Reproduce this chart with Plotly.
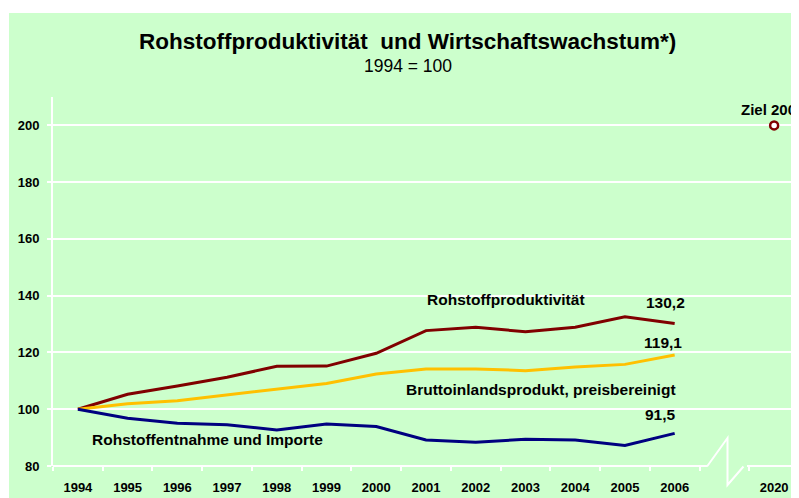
import plotly.graph_objects as go

years = ["1994", "1995", "1996", "1997", "1998", "1999", "2000",
         "2001", "2002", "2003", "2004", "2005", "2006"]
gap_cat = " "
target_year = "2020"
categories = years + [gap_cat, target_year]

rohstoffproduktivitaet = [100, 105.3, 108.2, 111.3, 115.1, 115.2, 119.7,
                          127.7, 128.9, 127.3, 128.9, 132.6, 130.2]
bip = [100, 101.9, 103.0, 105.0, 107.0, 109.1, 112.4,
       114.2, 114.2, 113.6, 114.9, 115.8, 119.1]
rohstoffentnahme = [100, 96.8, 95.1, 94.5, 92.7, 94.8, 93.9,
                    89.2, 88.4, 89.4, 89.2, 87.2, 91.5]
ziel_value = 200

y_ticks = [80, 100, 120, 140, 160, 180, 200]

RED = "#800000"
YEL = "#FFC000"
BLUE = "#000080"
GREEN = "#CCFFCC"
FONT = "Arial, Liberation Sans, sans-serif"

# figure geometry (page body adds an 8px offset)
W, H = 791, 490
L, R, T, B = 45, 0, 89, 32
PW, PH = W - L - R, H - T - B


def px(xr):  # reference pixel x -> paper
    return (xr - 8 - L) / PW


def py(yr):  # reference pixel y -> paper
    return (H - B - (yr - 8)) / PH


cat_index = {c: i for i, c in enumerate(categories)}

fig = go.Figure()
fig.add_trace(go.Scatter(x=years, y=rohstoffproduktivitaet, mode="lines",
                         line=dict(color=RED, width=3), hoverinfo="skip"))
fig.add_trace(go.Scatter(x=years, y=bip, mode="lines",
                         line=dict(color=YEL, width=3), hoverinfo="skip"))
fig.add_trace(go.Scatter(x=years, y=rohstoffentnahme, mode="lines",
                         line=dict(color=BLUE, width=3), hoverinfo="skip"))
fig.add_trace(go.Scatter(x=[target_year], y=[ziel_value], mode="markers",
                         marker=dict(symbol="circle", size=8, color="white",
                                     line=dict(color=RED, width=2.5)),
                         hoverinfo="skip", cliponaxis=False))

shapes = []
# green panel
shapes.append(dict(type="rect", xref="paper", yref="paper",
                   x0=px(9), x1=1.0, y0=py(498), y1=py(13),
                   fillcolor=GREEN, line=dict(width=0), layer="below"))
# x axis line with break
shapes.append(dict(type="line", xref="paper", yref="paper", x0=0, x1=px(707),
                   y0=0, y1=0, line=dict(color="white", width=2)))
shapes.append(dict(type="line", xref="paper", yref="paper", x0=px(747), x1=1,
                   y0=0, y1=0, line=dict(color="white", width=2)))
shapes.append(dict(type="path", xref="paper", yref="paper",
                   path=(f"M {px(707)} {py(466.5)} L {px(727.5)} {py(438)} "
                         f"L {px(727.5)} {py(485)} L {px(743.5)} {py(466.5)}"),
                   line=dict(color="white", width=2)))


def lab(text, xi, y, size=15.5, **kw):
    d = dict(text=f"<b>{text}</b>", x=xi, y=y, xref="x", yref="y",
             showarrow=False, font=dict(size=size, color="black", family=FONT),
             xanchor="center", yanchor="middle")
    d.update(kw)
    return d


annotations = [
    dict(text="<b>Rohstoffproduktivität  und Wirtschaftswachstum*)</b>",
         xref="paper", yref="paper", x=px(407.5), y=py(42),
         showarrow=False, font=dict(size=22.5, color="black", family=FONT),
         xanchor="center", yanchor="middle"),
    dict(text="1994 = 100", xref="paper", yref="paper",
         x=px(407.5), y=py(66), showarrow=False,
         font=dict(size=17.5, color="black", family=FONT),
         xanchor="center", yanchor="middle"),
    dict(text="<b>Ziel 200</b>", xref="paper", yref="y", x=1.0, y=ziel_value,
         yshift=16, xshift=-1, showarrow=False,
         font=dict(size=15, color="black", family=FONT),
         xanchor="right", yanchor="middle"),
    lab("Rohstoffproduktivität", 8.61, 138.8),
    lab("130,2", 11.81, 137.6),
    lab("119,1", 11.76, 123.5),
    lab("Bruttoinlandsprodukt, preisbereinigt", 9.31, 107.1),
    lab("91,5", 11.71, 98.0),
    lab("Rohstoffentnahme und Importe", 2.61, 89.2),
]

fig.update_layout(
    width=W, height=H,
    margin=dict(l=L, r=R, t=T, b=B),
    paper_bgcolor="white", plot_bgcolor=GREEN,
    showlegend=False,
    shapes=shapes, annotations=annotations,
    font=dict(family=FONT, color="black"),
)
fig.update_xaxes(type="category", categoryorder="array", categoryarray=categories,
                 range=[-0.5, 14.5], tickmode="array", tickvals=categories,
                 ticktext=[f"<b>{c}</b>" for c in categories],
                 tickson="boundaries", ticks="outside", ticklen=4,
                 tickcolor="white", tickwidth=2, showgrid=False,
                 showline=False, zeroline=False, ticklabelstandoff=12,
                 tickfont=dict(size=13, color="black", family=FONT))
fig.update_yaxes(range=[80, 210], tickvals=y_ticks,
                 ticktext=[f"<b>{v}</b>" for v in y_ticks],
                 ticks="outside", ticklen=4, tickcolor="white", tickwidth=2,
                 showgrid=True, gridcolor="white", gridwidth=2,
                 showline=True, linecolor="white", linewidth=2, zeroline=False,
                 ticklabelstandoff=5,
                 tickfont=dict(size=13, color="black", family=FONT))

fig.write_html("out.html")
